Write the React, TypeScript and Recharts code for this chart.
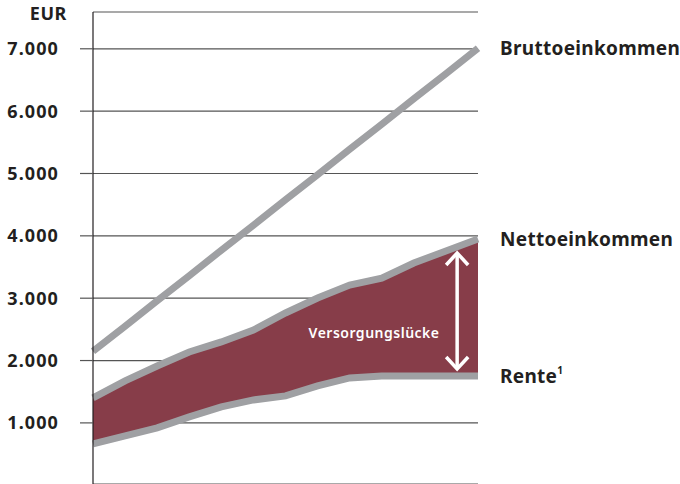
import React from 'react';
import {
  ComposedChart,
  Area,
  Line,
  XAxis,
  YAxis,
  CartesianGrid,
  ReferenceLine,
  ReferenceDot,
} from 'recharts';

const steps = [0, 1, 2, 3, 4, 5, 6, 7, 8, 9, 10, 11, 12];
const brutto = [2150, 2550, 2960, 3360, 3770, 4170, 4580, 4980, 5390, 5790, 6200, 6600, 7010];
const netto = [1400, 1673, 1913, 2137, 2298, 2490, 2763, 3003, 3211, 3323, 3564, 3757, 3949];
const rente = [663, 792, 920, 1096, 1256, 1368, 1433, 1593, 1721, 1753, 1753, 1753, 1753];
const yTicks = [1000, 2000, 3000, 4000, 5000, 6000, 7000];
const seriesLabels = { brutto: 'Bruttoeinkommen', netto: 'Nettoeinkommen', rente: 'Rente' };
const gapLabel = 'Versorgungslücke';
const unitLabel = 'EUR';

const data = steps.map((s, i) => ({
  i: s,
  brutto: brutto[i],
  netto: netto[i],
  rente: rente[i],
  band: [rente[i], netto[i]],
}));

const FONT = '"Noto Sans", sans-serif';
const LINE_GREY = '#9fa0a3';
const FILL = '#873d49';
const TEXT = '#231f20';

const fmt = (v: number) => v.toLocaleString('de-DE');

const makeEndLabel = (text: string, sup?: string) => (props: any) => {
  const { x, y, index } = props;
  if (index !== steps.length - 1) return null;
  return (
    <text
      x={x + 22}
      y={y}
      dominantBaseline="central"
      fontFamily={FONT}
      fontWeight={700}
      fontSize={19}
      letterSpacing={0.3}
      fill={TEXT}
    >
      <tspan>{text}</tspan>
      {sup ? (
        <tspan fontSize={10} dy={-6}>
          {sup}
        </tspan>
      ) : null}
    </text>
  );
};

const ArrowShape = (props: any) => {
  const { x1, y1, x2, y2 } = props;
  const top = Math.min(y1, y2);
  const bot = Math.max(y1, y2);
  const x = x1;
  return (
    <g stroke="#ffffff" strokeWidth={3.5} fill="none" strokeLinecap="butt">
      <line x1={x} y1={top + 1} x2={x} y2={bot - 1} />
      <polyline points={`${x - 11},${top + 13} ${x},${top + 1} ${x + 11},${top + 13}`} />
      <polyline points={`${x - 11},${bot - 13} ${x},${bot - 1} ${x + 11},${bot - 13}`} />
    </g>
  );
};

const UnitLabel = (props: any) => {
  const { viewBox } = props;
  const vb = viewBox || { x: 0, y: 12 };
  return (
    <text
      x={vb.x + 67}
      y={vb.y + 8}
      textAnchor="end"
      fontFamily={FONT}
      fontWeight={700}
      fontSize={18}
      letterSpacing={0.6}
      fill={TEXT}
    >
      {unitLabel}
    </text>
  );
};

export default function App() {
  return (
    <div style={{ position: 'absolute', left: 0, top: 0, width: 680, height: 484, background: '#fff' }}>
      <ComposedChart
        width={680}
        height={484}
        data={data}
        margin={{ top: 12, right: 202, bottom: 0, left: 0 }}
      >
        <CartesianGrid horizontal vertical={false} stroke="#555" strokeWidth={1.2} />
        <XAxis dataKey="i" type="number" domain={[0, 12]} hide />
        <YAxis
          type="number"
          domain={[20, 7590]}
          ticks={yTicks}
          width={93}
          tickFormatter={fmt}
          axisLine={{ stroke: '#231f20', strokeWidth: 1.2 }}
          tickLine={{ stroke: '#555', strokeWidth: 1.2 }}
          tickSize={13}
          tickMargin={21}
          tick={{ fontFamily: FONT, fontWeight: 700, fontSize: 18, letterSpacing: 1.1, fill: TEXT }}
          label={<UnitLabel />}
        />
        <Area
          dataKey="band"
          type="linear"
          stroke="none"
          fill={FILL}
          fillOpacity={1}
          isAnimationActive={false}
        />
        <Line
          dataKey="brutto"
          type="linear"
          stroke={LINE_GREY}
          strokeWidth={7}
          dot={false}
          isAnimationActive={false}
          label={makeEndLabel(seriesLabels.brutto)}
        />
        <Line
          dataKey="netto"
          type="linear"
          stroke={LINE_GREY}
          strokeWidth={7}
          dot={false}
          isAnimationActive={false}
          label={makeEndLabel(seriesLabels.netto)}
        />
        <Line
          dataKey="rente"
          type="linear"
          stroke={LINE_GREY}
          strokeWidth={7}
          dot={false}
          isAnimationActive={false}
          label={makeEndLabel(seriesLabels.rente, '1')}
        />
        <ReferenceLine
          segment={[
            { x: 11.35, y: 3741 },
            { x: 11.35, y: 1848 },
          ]}
          shape={ArrowShape}
        />
        <ReferenceDot
          x={8.76}
          y={2442}
          r={0}
          stroke="none"
          fill="none"
          label={{
            value: gapLabel,
            position: 'center',
            fill: '#ffffff',
            fontFamily: FONT,
            fontWeight: 600,
            fontSize: 14,
            letterSpacing: 0.5,
          }}
        />
      </ComposedChart>
    </div>
  );
}
